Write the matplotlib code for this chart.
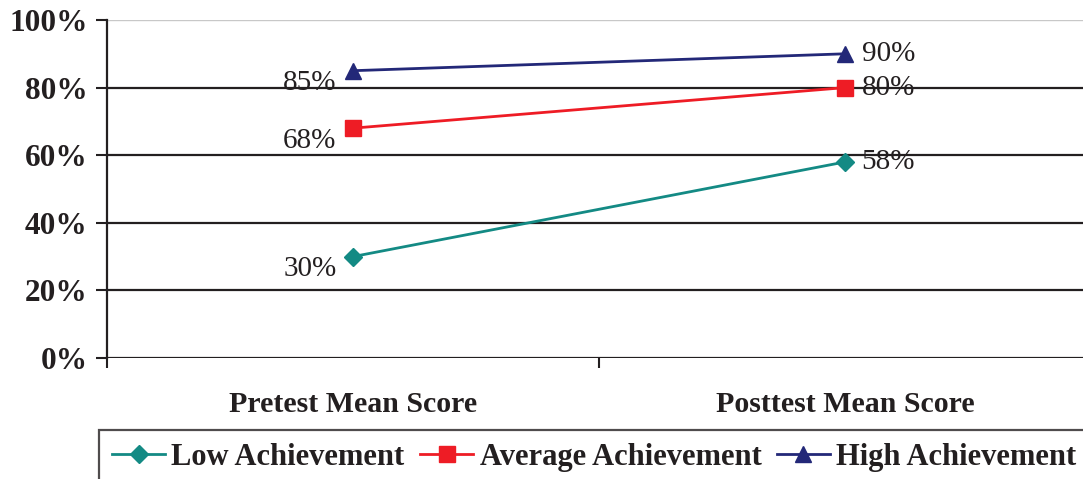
import matplotlib.pyplot as plt
import numpy as np

# data
categories = ["Pretest Mean Score", "Posttest Mean Score"]
low = [30, 58]
average = [68, 80]
high = [85, 90]
series_names = ["Low Achievement", "Average Achievement", "High Achievement"]
colors = ["#138a84", "#ee1c25", "#232878"]
markers = ["D", "s", "^"]
y_ticks = [0, 20, 40, 60, 80, 100]

plt.rcParams['font.family'] = ['Liberation Serif', 'DejaVu Serif']

fig = plt.figure(figsize=(10.83, 4.79), dpi=100)
ax = fig.add_axes([107 / 1083, 121 / 479, 984 / 1083, 338 / 479])

x = np.arange(len(categories))
for vals, name, c, m in zip([low, average, high], series_names, colors, markers):
    ms = 9 if m == "D" else 11
    ax.plot(x, vals, color=c, lw=2, marker=m, markersize=ms, label=name)
    # labels: left-below for pretest, right for posttest
    ax.annotate(f"{vals[0]}%", (x[0], vals[0]), xytext=(-12, -9), textcoords="offset points",
                ha="right", va="center", fontsize=21, color="#231f20")
    ax.annotate(f"{vals[1]}%", (x[1], vals[1]), xytext=(12, 0), textcoords="offset points",
                ha="left", va="center", fontsize=21, color="#231f20")

ax.set_xlim(-0.5, 1.5)
ax.set_ylim(0, 100)

# gridlines
for yv in y_ticks[:-1]:
    ax.axhline(yv, color="#231f20", lw=1.6, zorder=0)
ax.axhline(100, color="#c8c8c8", lw=1, zorder=0)

ax.set_yticks(y_ticks)
ax.set_yticklabels([f"{v}%" for v in y_ticks], fontsize=22.5, fontweight="bold", color="#231f20")
ax.set_xticks([-0.5, 0.5, 1.5])
ax.set_xticklabels([])
ax.set_xticks(x, minor=True)
ax.set_xticklabels(categories, minor=True, fontsize=21.5, fontweight="bold", color="#231f20")
ax.tick_params(axis="x", which="minor", length=0, pad=24)
ax.tick_params(axis="x", which="major", length=7, width=1.5, color="#231f20")
ax.tick_params(axis="y", length=8, width=1.5, color="#231f20", pad=6)

for s in ["top", "right", "bottom"]:
    ax.spines[s].set_visible(False)
ax.spines["left"].set_linewidth(1.6)
ax.spines["left"].set_color("#231f20")

leg = fig.legend(loc="upper left", bbox_to_anchor=(99 / 1083, 49 / 479), ncol=3,
                 frameon=True, fancybox=False, edgecolor="#231f20", borderaxespad=0,
                 prop={"size": 22, "weight": "bold"}, handlelength=1.75, handletextpad=0.2,
                 columnspacing=0.5, borderpad=0.42)
leg.get_frame().set_linewidth(1.6)
for t in leg.get_texts():
    t.set_color("#231f20")

fig.savefig("out.png", dpi=100)
